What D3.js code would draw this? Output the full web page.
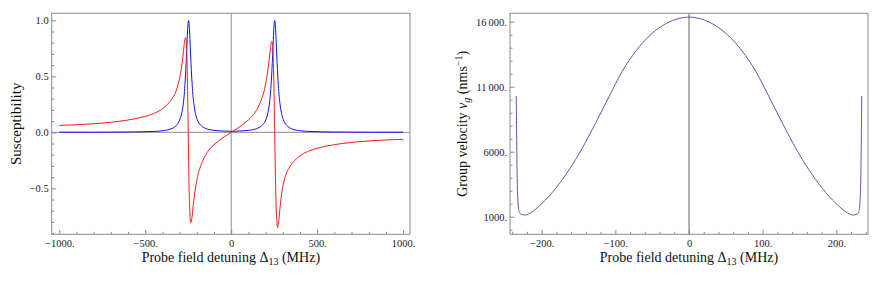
<!DOCTYPE html>
<html>
<head>
<meta charset="utf-8">
<script src="https://cdn.jsdelivr.net/npm/d3@7"></script>
<style>
  body { margin: 0; background: #fff; }
  svg text { font-family: "Liberation Serif", "DejaVu Serif", serif; }
  .tick text { font-size: 10.5px; fill: #222; }
</style>
</head>
<body>
<div id="chart"></div>
<script>
// Left panel: susceptibility, blue = absorption, red = dispersion
const blueX = [-1000, -800, -600, -450, -400, -350, -320, -300, -290, -280, -273, -268, -264, -260, -256, -252, -248,
  -244, -240, -236, -232, -228, -223, -218, -208, -198, -178, -148, -100, -50, 0,
  50, 100, 148, 178, 198, 208, 218, 223, 228, 233, 237, 241, 245, 249, 253,
  257, 261, 265, 269, 273, 278, 283, 293, 303, 323, 353, 403, 453, 600, 800, 1000];
const blueY = [0.001, 0.001, 0.003, 0.008, 0.014, 0.031, 0.06, 0.11, 0.155, 0.24, 0.34, 0.45, 0.56, 0.69, 0.83, 0.95, 1.0,
  0.95, 0.83, 0.69, 0.56, 0.45, 0.34, 0.265, 0.17, 0.115, 0.065, 0.034, 0.018, 0.012, 0.009,
  0.012, 0.018, 0.033, 0.06, 0.1, 0.14, 0.21, 0.265, 0.34, 0.45, 0.56, 0.69, 0.83, 0.95, 1.0,
  0.95, 0.83, 0.69, 0.56, 0.45, 0.34, 0.265, 0.17, 0.115, 0.062, 0.031, 0.014, 0.008, 0.003, 0.001, 0.001];

const redX = [-1000, -900, -800, -700, -600, -500, -450, -400, -370, -340, -320, -305, -295, -285, -278, -272,
  -266, -262, -258.5, -255.5, -253, -250, -247, -244.5, -241.5, -238, -234, -229, -224, -218, -210, -200,
  -190, -175, -160, -140, -120, -100, -80, -60, -40, -20, 0,
  20, 40, 60, 80, 100, 120, 140, 160, 175, 190, 200, 210, 218, 224, 229, 233,
  236, 240, 244, 247, 250, 253, 256, 259, 262, 266, 270, 275, 280, 287, 295, 305,
  320, 340, 370, 400, 450, 500, 600, 700, 800, 900, 1000];
const redY = [0.062, 0.068, 0.077, 0.09, 0.11, 0.142, 0.168, 0.21, 0.25, 0.31, 0.37, 0.45, 0.52, 0.62, 0.72, 0.80,
  0.845, 0.82, 0.72, 0.55, 0.31, 0.0, -0.29, -0.52, -0.67, -0.78, -0.805, -0.77, -0.70, -0.61, -0.52, -0.43,
  -0.36, -0.29, -0.235, -0.18, -0.14, -0.11, -0.085, -0.06, -0.04, -0.02, 0.0,
  0.02, 0.04, 0.06, 0.085, 0.11, 0.14, 0.18, 0.235, 0.29, 0.36, 0.43, 0.52, 0.61, 0.69, 0.76, 0.80,
  0.81, 0.79, 0.69, 0.52, 0.29, 0.0, -0.29, -0.52, -0.69, -0.80, -0.85, -0.81, -0.74, -0.63, -0.53, -0.45,
  -0.37, -0.31, -0.25, -0.21, -0.168, -0.142, -0.11, -0.09, -0.077, -0.068, -0.062];

const leftXTicks = [-1000, -500, 0, 500, 1000];
const leftXLabels = ["\u22121000.", "\u2212500.", "0", "500.", "1000."];
const leftYTicks = [-0.5, 0, 0.5, 1.0];
const leftYLabels = ["\u22120.5", "0.0", "0.5", "1.0"];

// Right panel: group velocity
const vgX = [-234.5, -234, -233.2, -232.3, -230.5, -227.7, -222, -213, -199.5, -181, -163, -145, -127, -108.6,
  -90.5, -72, -54, -36, -18, 0, 18, 36, 54, 72, 90.5, 108.6, 127, 145, 163, 181, 199.5, 213, 222,
  227.7, 230.5, 232.3, 233.2, 234, 234.5];
const vgY = [10280, 7410, 3820, 2280, 1380, 1180, 1130, 1380, 2020, 3180, 4590, 6260, 8180, 10230,
  12200, 13750, 14900, 15700, 16180, 16350, 16180, 15700, 14900, 13750, 12200, 10230, 8180, 6260, 4590, 3180, 2020, 1380, 1130,
  1180, 1380, 2280, 3820, 7410, 10280];

const rightXTicks = [-200, -100, 0, 100, 200];
const rightXLabels = ["\u2212200.", "\u2212100.", "0", "100.", "200."];
const rightYTicks = [1000, 6000, 11000, 16000];
const rightYLabels = ["1000.", "6000.", "11\u2009000.", "16\u2009000."];

const width = 872, height = 286;
const frameColor = "#8c8c8c";
const serif = "'Liberation Serif', 'DejaVu Serif', serif";

const svg = d3.select("#chart").append("svg")
  .attr("width", width)
  .attr("height", height);

// draws one framed panel in the Mathematica style
function panel(cfg) {
  const x = d3.scaleLinear().domain(cfg.xDomain).range(cfg.xRange);
  const y = d3.scaleLinear().domain(cfg.yDomain).range(cfg.yRange);
  const g = svg.append("g");

  // zero axes
  if (cfg.hAxis) {
    g.append("line")
      .attr("x1", cfg.xRange[0]).attr("x2", cfg.xRange[1])
      .attr("y1", y(0)).attr("y2", y(0))
      .attr("stroke", frameColor).attr("stroke-width", 1);
  }
  g.append("line")
    .attr("x1", x(0)).attr("x2", x(0))
    .attr("y1", cfg.yRange[0]).attr("y2", cfg.yRange[1])
    .attr("stroke", cfg.vAxisColor || frameColor).attr("stroke-width", cfg.vAxisWidth || 1);

  // curves
  cfg.series.forEach(s => {
    const pts = s.xs.map((v, i) => [v, s.ys[i]]);
    g.append("path")
      .datum(pts)
      .attr("fill", "none")
      .attr("stroke", s.color)
      .attr("stroke-width", 1)
      .attr("d", d3.line().x(d => x(d[0])).y(d => y(d[1])).curve(d3.curveMonotoneX));
  });

  // minor ticks
  g.append("g")
    .attr("transform", `translate(0,${cfg.yRange[0]})`)
    .call(d3.axisBottom(x).tickValues(cfg.xMinor).tickSize(-2.5).tickFormat(""))
    .call(a => a.select(".domain").remove())
    .selectAll("line").attr("stroke", frameColor);
  g.append("g")
    .attr("transform", `translate(${cfg.xRange[0]},0)`)
    .call(d3.axisLeft(y).tickValues(cfg.yMinor).tickSize(-2.5).tickFormat(""))
    .call(a => a.select(".domain").remove())
    .selectAll("line").attr("stroke", frameColor);

  // major ticks
  const xa = g.append("g")
    .attr("transform", `translate(0,${cfg.yRange[0]})`)
    .call(d3.axisBottom(x).tickValues(cfg.xTicks).tickSize(-4.5).tickPadding(5)
      .tickFormat((d, i) => cfg.xLabels[i]));
  xa.select(".domain").remove();
  xa.selectAll("line").attr("stroke", frameColor);
  const ya = g.append("g")
    .attr("transform", `translate(${cfg.xRange[0]},0)`)
    .call(d3.axisLeft(y).tickValues(cfg.yTicks).tickSize(-4.5).tickPadding(3)
      .tickFormat((d, i) => cfg.yLabels[i]));
  ya.select(".domain").remove();
  ya.selectAll("line").attr("stroke", frameColor);
  g.selectAll("g").attr("font-family", serif).attr("font-size", null);

  // frame
  g.append("rect")
    .attr("x", cfg.xRange[0]).attr("y", cfg.yRange[1])
    .attr("width", cfg.xRange[1] - cfg.xRange[0])
    .attr("height", cfg.yRange[0] - cfg.yRange[1])
    .attr("fill", "none").attr("stroke", frameColor).attr("stroke-width", 1);

  // x title
  const xt = g.append("text")
    .attr("x", (cfg.xRange[0] + cfg.xRange[1]) / 2)
    .attr("y", 261.5)
    .attr("text-anchor", "middle")
    .style("font-family", serif)
    .style("font-size", "14px")
    .attr("fill", "#111");
  xt.append("tspan").text("Probe field detuning \u0394");
  xt.append("tspan").attr("dy", 3).style("font-size", "10px").text("13");
  xt.append("tspan").attr("dy", -3).text(" (MHz)");

  // y title
  const yt = g.append("text")
    .attr("transform", `translate(${cfg.yTitleX},${(cfg.yRange[0] + cfg.yRange[1]) / 2}) rotate(-90)`)
    .attr("text-anchor", "middle")
    .style("font-family", serif)
    .style("font-size", cfg.yTitleSize)
    .attr("fill", "#111");
  cfg.yTitle(yt);
}

panel({
  xDomain: [-1044, 1040], xRange: [51.7, 410],
  yDomain: [-0.91, 1.0625], yRange: [234.3, 13.3],
  xTicks: leftXTicks, xLabels: leftXLabels,
  yTicks: leftYTicks, yLabels: leftYLabels,
  xMinor: d3.range(-1000, 1001, 100).filter(v => v % 500 !== 0),
  yMinor: d3.range(-9, 11).map(v => v / 10).filter(v => Math.abs(v * 10) % 5 !== 0),
  hAxis: true,
  series: [
    { xs: blueX, ys: blueY, color: "#1010ff" },
    { xs: redX, ys: redY, color: "#ff1a1a" }
  ],
  yTitleX: 21,
  yTitleSize: "15px",
  yTitle: t => t.text("Susceptibility")
});

panel({
  xDomain: [-243, 243], xRange: [510, 868],
  yDomain: [-354, 16646], yRange: [234.3, 13.3],
  xTicks: rightXTicks, xLabels: rightXLabels,
  yTicks: rightYTicks, yLabels: rightYLabels,
  xMinor: d3.range(-240, 241, 20).filter(v => v % 100 !== 0),
  yMinor: d3.range(0, 16001, 1000).filter(v => (v - 1000) % 5000 !== 0),
  hAxis: false,
  vAxisWidth: 1.5,
  vAxisColor: "#999",
  series: [
    { xs: vgX, ys: vgY, color: "#5a5aae" }
  ],
  yTitleX: 467,
  yTitleSize: "14px",
  yTitle: t => {
    t.append("tspan").text("Group velocity ");
    t.append("tspan").style("font-style", "italic").text("v");
    t.append("tspan").attr("dy", 3).style("font-size", "10px").style("font-style", "italic").text("g");
    t.append("tspan").attr("dy", -3).text(" (nms");
    t.append("tspan").attr("dy", -5).style("font-size", "10px").text("\u22121");
    t.append("tspan").attr("dy", 5).text(")");
  }
});
</script>
</body>
</html>
